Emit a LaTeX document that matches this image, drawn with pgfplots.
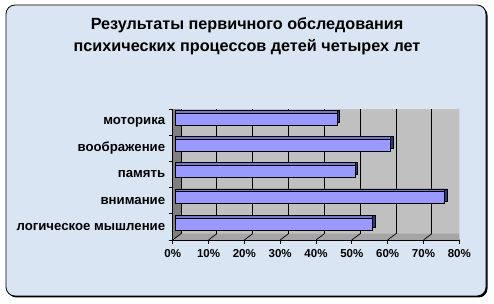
\documentclass[border=0pt]{standalone}
\usepackage{pgfplots}
\pgfplotsset{compat=1.18}
\usepackage{fontspec}
\setmainfont{Liberation Sans}
\definecolor{bg}{RGB}{218,229,244}
\definecolor{wall}{RGB}{192,192,192}
\definecolor{sidewall}{RGB}{128,128,128}
\definecolor{floorc}{RGB}{165,165,165}
\definecolor{barf}{RGB}{153,153,255}
\definecolor{bartop}{RGB}{118,118,205}
\definecolor{barside}{RGB}{51,51,128}
\begin{document}
\begin{tikzpicture}
\path[use as bounding box] (0bp,0bp) rectangle (494bp,304bp);
\fill[black, rounded corners=9bp] (7.5bp,6.5bp) rectangle (487.5bp,297.5bp);
\filldraw[fill=bg, draw=black, line width=0.8bp, rounded corners=9bp] (6bp,8bp) rectangle (486bp,299bp);
\node[anchor=base, inner sep=0pt, font=\bfseries\fontsize{16.2bp}{18bp}\selectfont] at (247bp,274bp) {Результаты первичного обследования};
\node[anchor=base, inner sep=0pt, font=\bfseries\fontsize{16.2bp}{18bp}\selectfont] at (247bp,252.5bp) {психических процессов детей четырех лет};
\begin{axis}[
  at={(172.7bp,64bp)}, anchor=south west,
  scale only axis, width=286.6bp, height=131bp,
  xmin=0, xmax=80, ymin=0, ymax=5,
  axis x line*=bottom, axis y line*=left,
  axis line style={-, black, line width=0.8bp},
  axis on top,
  xtick={0,10,20,30,40,50,60,70,80},
  xticklabels={0\%,10\%,20\%,30\%,40\%,50\%,60\%,70\%,80\%},
  ytick={0,1,2,3,4,5},
  y tick label as interval,
  yticklabels={логическое мышление,внимание,память,воображение,моторика},
  tick align=outside, major tick length=4bp,
  tick style={black, line width=0.8bp},
  xticklabel style={font=\bfseries\fontsize{11.5bp}{13bp}\selectfont, yshift=-2bp},
  yticklabel style={font=\bfseries\fontsize{13.2bp}{15bp}\selectfont},
]
\fill[wall] ([shift={(8.3bp,6.3bp)}]axis cs:0,0) rectangle ([shift={(8.3bp,6.3bp)}]axis cs:80,5);
\fill[sidewall] (axis cs:0,0) -- (axis cs:0,5) -- ([shift={(8.3bp,6.3bp)}]axis cs:0,5) -- ([shift={(8.3bp,6.3bp)}]axis cs:0,0) -- cycle;
\fill[floorc] (axis cs:0,0) -- (axis cs:80,0) -- ([shift={(8.3bp,6.3bp)}]axis cs:80,0) -- ([shift={(8.3bp,6.3bp)}]axis cs:0,0) -- cycle;
\draw[gray!50!black, line width=0.6bp] ([shift={(8.3bp,6.3bp)}]axis cs:0,5) -- ([shift={(8.3bp,6.3bp)}]axis cs:80,5);
\draw[black, line width=0.6bp] (axis cs:0,5) -- ([shift={(8.3bp,6.3bp)}]axis cs:0,5);
\draw[gray!60!black, line width=0.6bp] (axis cs:80,0) -- ([shift={(8.3bp,6.3bp)}]axis cs:80,0);
\pgfplotsinvokeforeach{0,10,20,30,40,50,60,70,80}{
  \draw[black, line width=0.8bp] ([shift={(8.3bp,6.3bp)}]axis cs:#1,0) -- ([shift={(8.3bp,6.3bp)}]axis cs:#1,5);
  \draw[black, line width=0.7bp] (axis cs:#1,0) -- ([shift={(8.3bp,6.3bp)}]axis cs:#1,0);
}
\addplot[xbar, bar width=12bp, fill=barside, draw=black, line width=0.5bp, xshift=5.8bp, yshift=5.8bp]
  coordinates {(55,0.5) (75,1.5) (50,2.5) (60,3.5) (45,4.5)};
\addplot[xbar, bar width=12bp, fill=bartop, draw=black, line width=0.5bp, xshift=3bp, yshift=5.8bp]
  coordinates {(55,0.5) (75,1.5) (50,2.5) (60,3.5) (45,4.5)};
\addplot[xbar, bar width=12bp, fill=barf, draw=black, line width=0.6bp, xshift=3bp, yshift=3bp]
  coordinates {(55,0.5) (75,1.5) (50,2.5) (60,3.5) (45,4.5)};
\end{axis}
\end{tikzpicture}
\end{document}
